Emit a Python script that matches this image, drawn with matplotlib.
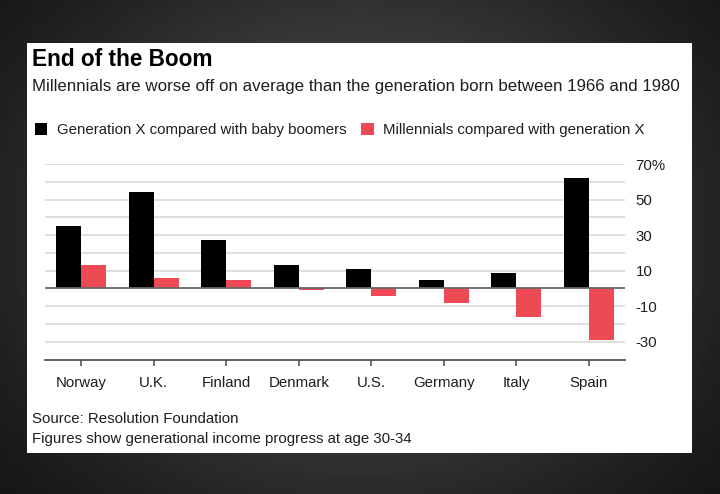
import matplotlib
matplotlib.use("Agg")
import matplotlib.pyplot as plt
import numpy as np
from matplotlib.patches import Rectangle

# data
countries = ["Norway", "U.K.", "Finland", "Denmark", "U.S.", "Germany", "Italy", "Spain"]
gen_x = [35, 54, 27, 13, 11, 5, 8.5, 62]
millennials = [13, 6, 5, -1, -4, -8, -16, -29]
ytick_vals = [70, 50, 30, 10, -10, -30]
ytick_text = ["70%", "50", "30", "10", "-10", "-30"]

BLACK = "#000000"
RED = "#EE4A53"
TXT = "#1e1e1e"
FS = 10.8

plt.rcParams['font.family'] = ['Liberation Sans', 'DejaVu Sans']

W, H = 720, 494
fig = plt.figure(figsize=(W / 100, H / 100), dpi=100)

# dark vignette background
bg = fig.add_axes([0, 0, 1, 1])
yy, xx = np.mgrid[0:H, 0:W]
d = ((xx - 360) / 430.0) ** 2 + ((yy - 230) / 360.0) ** 2
shade = 0.04 + 0.27 * np.exp(-d * 1.4)
bg.imshow(shade, cmap="gray", vmin=0, vmax=1, extent=[0, W, H, 0], aspect="auto")
bg.add_patch(Rectangle((27, 43), 665, 410, facecolor="white", edgecolor="none"))
bg.set_xlim(0, W)
bg.set_ylim(H, 0)
bg.axis("off")

def px(x, y):
    return x / W, 1 - y / H

# titles
fig.text(*px(32, 66), "End of the Boom", fontsize=16.3, fontweight="bold", va="baseline")
fig.text(*px(32, 91), "Millennials are worse off on average than the generation born between 1966 and 1980",
         fontsize=12.2, color=TXT, va="baseline")

# legend
fig.patches.append(Rectangle(px(35, 135), 12 / W, 12 / H, transform=fig.transFigure,
                             facecolor=BLACK, edgecolor="none"))
fig.text(*px(57, 133.5), "Generation X compared with baby boomers", fontsize=FS,
         color=TXT, va="baseline")
fig.patches.append(Rectangle(px(361, 135), 13 / W, 12 / H, transform=fig.transFigure,
                             facecolor=RED, edgecolor="none"))
fig.text(*px(383, 133.5), "Millennials compared with generation X", fontsize=FS,
         color=TXT, va="baseline")

# main chart
ax = fig.add_axes([45 / W, 1 - 359.5 / H, 580 / W, (359.5 - 164) / H])
ax.patch.set_alpha(0)
x = np.arange(len(countries))
bw = 0.345
for g in range(-30, 71, 10):
    if g != 0:
        ax.axhline(g, color="#dcdcdc", lw=1.3, zorder=0)
ax.bar(x - bw / 2, gen_x, width=bw, color=BLACK, zorder=2)
ax.bar(x + bw / 2, millennials, width=bw, color=RED, zorder=2)
ax.axhline(0, color="#666666", lw=1.3, zorder=3)

ax.set_xlim(-0.5, 7.5)
ax.set_ylim(-40, 70)
for s in ["top", "left", "right"]:
    ax.spines[s].set_visible(False)
ax.spines["bottom"].set_color("#555555")
ax.spines["bottom"].set_linewidth(1.3)

ax.set_xticks(x)
ax.set_xticklabels(countries, fontsize=FS, color=TXT)
ax.tick_params(axis="x", length=4, width=1.2, color="#555555", pad=8)

ax.yaxis.tick_right()
ax.set_yticks(ytick_vals)
ax.set_yticklabels(ytick_text, fontsize=FS, color=TXT)
ax.tick_params(axis="y", length=0, pad=7.5)

# footer
fig.text(*px(32, 423), "Source: Resolution Foundation", fontsize=FS, color=TXT, va="baseline")
fig.text(*px(32, 443), "Figures show generational income progress at age 30-34", fontsize=FS,
         color=TXT, va="baseline")

fig.savefig("out.png", dpi=100)
